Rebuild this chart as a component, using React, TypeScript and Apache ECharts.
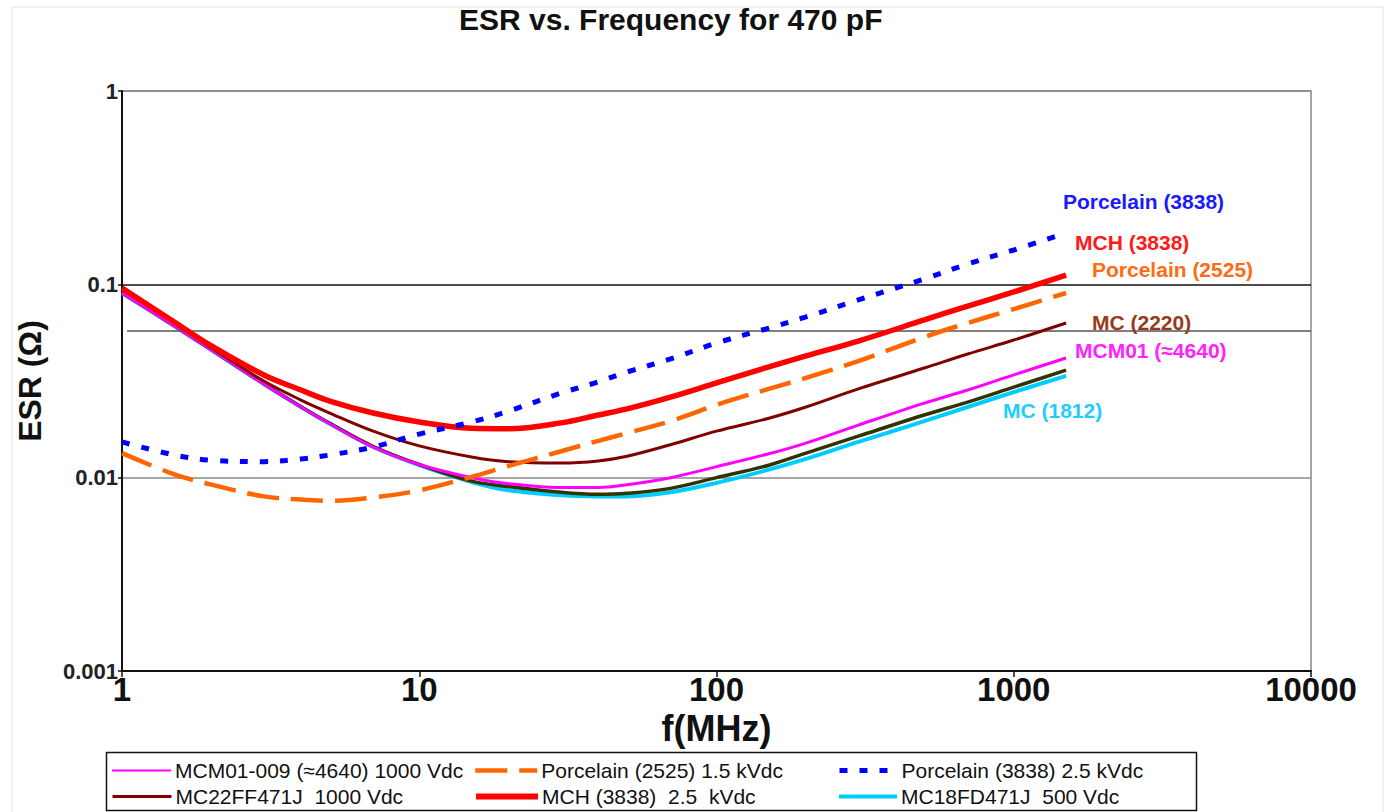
import React, { useEffect, useRef } from "react";
import * as echarts from "echarts";

const FONT = "'Liberation Sans', Arial, Helvetica, sans-serif";

const freqs = [1, 1.5, 2, 3, 4, 5, 7, 10, 15, 20, 30, 40, 50, 70, 100, 150, 200, 300, 500, 700, 1000, 1500];

const mcm01 = [0.0902, 0.0609, 0.0457, 0.0305, 0.0232, 0.019, 0.0144, 0.0117, 0.01, 0.0093, 0.0089, 0.0089, 0.0092, 0.01, 0.0114, 0.0133, 0.0151, 0.0187, 0.0243, 0.0284, 0.034, 0.0416];
const porc2525 = [0.0134, 0.0104, 0.0092, 0.008, 0.0077, 0.0076, 0.0079, 0.0086, 0.0101, 0.0115, 0.0137, 0.0155, 0.017, 0.0196, 0.0238, 0.0288, 0.0328, 0.0401, 0.0534, 0.0631, 0.0745, 0.0902];
const porc3838 = [0.0153, 0.0131, 0.0123, 0.0121, 0.0125, 0.0131, 0.0144, 0.0168, 0.0194, 0.0221, 0.0274, 0.0313, 0.0352, 0.0411, 0.0497, 0.0594, 0.0678, 0.083, 0.1066, 0.1274, 0.1505, 0.1843];
const mc2220 = [0.0946, 0.0631, 0.0469, 0.0316, 0.0252, 0.0216, 0.0174, 0.0146, 0.0128, 0.0121, 0.0119, 0.0122, 0.0129, 0.0148, 0.0174, 0.0203, 0.0232, 0.0288, 0.0369, 0.0436, 0.0515, 0.0631];
const mch3838 = [0.0957, 0.0638, 0.048, 0.034, 0.0284, 0.0249, 0.0216, 0.0194, 0.018, 0.0179, 0.0192, 0.0211, 0.0227, 0.0261, 0.0309, 0.0374, 0.0426, 0.0509, 0.0654, 0.0772, 0.0913, 0.1117];
const mc1812 = [0.0902, 0.0609, 0.0457, 0.0305, 0.0232, 0.019, 0.0144, 0.0116, 0.0095, 0.0086, 0.0081, 0.008, 0.008, 0.0084, 0.0094, 0.011, 0.0125, 0.0153, 0.0196, 0.0232, 0.0277, 0.0336];
const mcDark = [0.0905, 0.0611, 0.0459, 0.0306, 0.0233, 0.0191, 0.0145, 0.0117, 0.0096, 0.009, 0.0084, 0.0082, 0.0083, 0.0088, 0.01, 0.0116, 0.0134, 0.0164, 0.0211, 0.0246, 0.0294, 0.036];

const refLineValue = 0.0574;

const seriesNames = [
  "MCM01-009 (≈4640) 1000 Vdc",
  "Porcelain (2525) 1.5 kVdc",
  "Porcelain (3838) 2.5 kVdc",
  "MC22FF471J  1000 Vdc",
  "MCH (3838)  2.5  kVdc",
  "MC18FD471J  500 Vdc",
];

const curveLabels = [
  { text: "Porcelain (3838)", x: 1063, y: 201, color: "#1a1aff" },
  { text: "MCH (3838)", x: 1075, y: 242, color: "#ff1a1a" },
  { text: "Porcelain (2525)", x: 1092, y: 269, color: "#ff6a13" },
  { text: "MC (2220)", x: 1092, y: 322, color: "#9a3a1a" },
  { text: "MCM01 (≈4640)", x: 1075, y: 350, color: "#ff22ff" },
  { text: "MC (1812)", x: 1003, y: 410, color: "#22ccff" },
];

function pairs(arr: number[]) {
  return freqs.map((f, i) => [f, arr[i]]);
}

export default function App() {
  const ref = useRef<HTMLDivElement>(null);
  useEffect(() => {
    if (!ref.current) return;
    const chart = echarts.init(ref.current, undefined, { renderer: "svg" });

    const mkSeries = (name: string, data: number[], color: string, width: number, type: any, z: number, extra: any = {}) => ({
      name,
      type: "line",
      data: pairs(data),
      symbol: "none",
      smooth: 0.35,
      z,
      lineStyle: { color, width, type, cap: "butt" },
      itemStyle: { color },
      ...extra,
    });

    const mkLegend = (name: string, left: number, top: number, w: number, lw: number) => ({
      data: [name],
      left,
      top,
      padding: 0,
      itemWidth: w,
      itemHeight: 14,
      itemGap: 0,
      selectedMode: false,
      itemStyle: { opacity: 0, borderWidth: 0, color: "rgba(0,0,0,0)" },
      lineStyle: { width: lw },
      textStyle: { fontFamily: FONT, fontSize: 21, color: "#111", padding: [0, 0, 0, -1] },
    });

    const option: any = {
      animation: false,
      backgroundColor: "#ffffff",
      title: {
        text: "ESR vs. Frequency for 470 pF",
        left: 459,
        top: 4,
        padding: 0,
        textStyle: { fontFamily: FONT, fontSize: 30, fontWeight: "bold", color: "#111" },
      },
      grid: {
        left: 122,
        right: 74,
        top: 91,
        bottom: 141,
        show: true,
        borderColor: "#888",
        borderWidth: 1.5,
      },
      legend: [
        mkLegend(seriesNames[0], 111, 760, 59, 2),
        mkLegend(seriesNames[1], 473, 760, 62, 4.5),
        mkLegend(seriesNames[2], 837, 760, 58, 5),
        mkLegend(seriesNames[3], 111, 786, 59, 3),
        mkLegend(seriesNames[4], 473, 786, 62, 6),
        mkLegend(seriesNames[5], 837, 786, 58, 4),
      ],
      xAxis: {
        type: "log",
        logBase: 10,
        min: 1,
        max: 10000,
        name: "f(MHz)",
        nameLocation: "middle",
        nameGap: 34,
        nameTextStyle: { fontFamily: FONT, fontSize: 36, fontWeight: "bold", color: "#111" },
        axisLine: { show: true, lineStyle: { color: "#111", width: 2 } },
        axisTick: { show: true, length: 6, lineStyle: { color: "#111", width: 1.5 } },
        minorTick: { show: false },
        splitLine: { show: false },
        axisLabel: {
          fontFamily: FONT,
          fontSize: 33,
          fontWeight: "bold",
          color: "#111",
          margin: 2,
          formatter: (v: number) => String(Math.round(v)),
        },
      },
      yAxis: {
        type: "log",
        logBase: 10,
        min: 0.001,
        max: 1,
        name: "ESR (Ω)",
        nameLocation: "middle",
        nameGap: 76,
        nameTextStyle: { fontFamily: FONT, fontSize: 32, fontWeight: "bold", color: "#111" },
        axisLine: { show: true, lineStyle: { color: "#111", width: 2 } },
        axisTick: { show: true, length: 4, lineStyle: { color: "#111", width: 1.5 } },
        splitLine: { show: true, lineStyle: { color: ["#888", "#888", "#111", "#888"], width: 1.5 } },
        axisLabel: {
          fontFamily: FONT,
          fontSize: 22,
          fontWeight: "bold",
          color: "#222",
          margin: 4,
          padding: [12, 0, 0, 0],
          formatter: (v: number) => String(Number(v.toPrecision(1))),
        },
      },
      series: [
        mkSeries(seriesNames[5], mc1812, "#00ccff", 4, "solid", 2, {
          markLine: {
            silent: true,
            symbol: "none",
            label: { show: false },
            lineStyle: { color: "#555", width: 1.5, type: "solid" },
            data: [[{ coord: [1.04, refLineValue] }, { coord: [10000, refLineValue] }]],
          },
        }),
        mkSeries("MC (1812) trace", mcDark, "#333300", 3.5, "solid", 3),
        mkSeries(seriesNames[0], mcm01, "#ff00ff", 3, "solid", 4),
        mkSeries(seriesNames[3], mc2220, "#800000", 3, "solid", 5),
        mkSeries(seriesNames[1], porc2525, "#ff6600", 4.5, [32, 12], 6),
        mkSeries(seriesNames[4], mch3838, "#ff0000", 5.5, "solid", 7),
        mkSeries(seriesNames[2], porc3838, "#0000ff", 5, [8, 12], 8),
      ],
      graphic: [
        {
          type: "rect",
          shape: { x: 12, y: 7, width: 1371, height: 830 },
          style: { fill: "none", stroke: "#e4e4e4", lineWidth: 1 },
          silent: true,
          z: -10,
        },
        {
          type: "rect",
          shape: { x: 106.5, y: 752.5, width: 1090, height: 58 },
          style: { fill: "none", stroke: "#111", lineWidth: 1.5 },
          silent: true,
        },
        ...curveLabels.map((l) => ({
          type: "text",
          x: l.x,
          y: l.y,
          silent: true,
          style: {
            text: l.text,
            fill: l.color,
            font: `bold 21px ${FONT}`,
            verticalAlign: "middle",
          },
        })),
      ],
    };

    chart.setOption(option);
    return () => chart.dispose();
  }, []);

  return (
    <div
      ref={ref}
      style={{ position: "fixed", left: 0, top: 0, width: "1385px", height: "812px", background: "#fff" }}
    />
  );
}
